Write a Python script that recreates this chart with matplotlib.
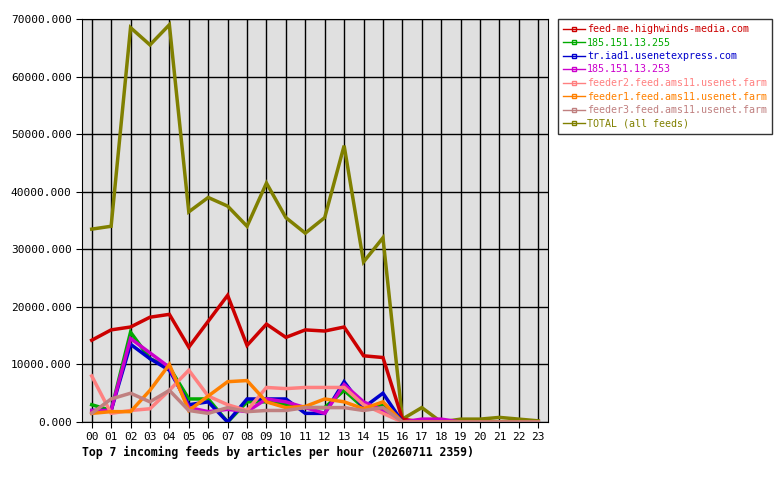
import matplotlib
matplotlib.use("Agg")
import matplotlib.pyplot as plt

hours = [f"{h:02d}" for h in range(24)]
names = ["feed-me.highwinds-media.com", "185.151.13.255", "tr.iad1.usenetexpress.com",
         "185.151.13.253", "feeder2.feed.ams11.usenet.farm", "feeder1.feed.ams11.usenet.farm",
         "feeder3.feed.ams11.usenet.farm", "TOTAL (all feeds)"]
colors = ["#cc0000", "#00aa00", "#0000cc", "#cc00cc", "#ff8080", "#ff8000", "#c08080", "#808000"]
z = [0]*7
red = [14200,16000,16500,18200,18700,13000,17500,22000,13300,17000,14700,16000,15800,16500,11500,11200,500]+z
green = [3000,2000,15600,11000,9500,4000,4000,0,3500,3500,3000,2500,2500,5500,2500,3000,0]+z
blue = [2000,2000,13500,11000,9000,3000,3500,0,4000,4000,4000,1500,1500,7000,2500,5000,0]+z
magenta = [2000,2000,14500,12000,9500,2500,1800,2200,1800,4000,3500,2500,1500,6500,3500,2000,0,500,500,0,0,0,0,0]
pink = [8000,1500,2000,2300,5500,9000,4500,3000,2000,6000,5800,6000,6000,6000,3000,1500,0]+z
orange = [1500,1800,1800,5500,10000,2000,4500,7000,7200,3500,2500,2700,4000,3500,2300,3500,0]+z
brown = [1500,4000,5000,3500,5500,2000,1500,2500,1800,2000,2000,2500,2500,2500,2000,2500,0]+z
total = [33500,34000,68500,65500,69000,36500,39000,37500,34000,41500,35500,32800,35500,48000,27800,32000,500,2500,0,500,500,800,500,200]
series = [red, green, blue, magenta, pink, orange, brown, total]

plt.rcParams['font.family'] = ['DejaVu Sans Mono']
fig = plt.figure(figsize=(7.8, 4.8), dpi=100)
ax = fig.add_axes([82/780, 1-422/480, 466/780, 403/480])
ax.set_facecolor("#e0e0e0")
x = list(range(24))
order = [7, 0, 1, 2, 3, 4, 5, 6]
for i in order:
    ax.plot(x, series[i], color=colors[i], lw=2.5, solid_joinstyle='miter')
ax.set_xlim(-0.5, 23.5)
ax.set_ylim(0, 70000)
ax.set_xticks(x)
ax.set_xticklabels(hours, fontsize=8)
yt = list(range(0, 70001, 10000))
ax.set_yticks(yt)
ax.set_yticklabels([f"{v}.000" for v in yt], fontsize=8)
ax.grid(True, color="black", lw=1)
ax.set_axisbelow(True)
ax.tick_params(length=4, color="black")
for s in ax.spines.values():
    s.set_color("black")
fig.text(82/780, 1-452/480, "Top 7 incoming feeds by articles per hour (20260711 2359)",
         fontsize=8.3, fontweight='bold', va='center')
from matplotlib.lines import Line2D
handles = [Line2D([], [], color=colors[i], lw=1, marker='s', markersize=3,
                  markerfacecolor='none', markevery=[1]) for i in range(8)]
leg = fig.legend(handles, names, loc='upper left', bbox_to_anchor=(558/780, 1-19/480),
                 fontsize=7.2, frameon=True, fancybox=False, edgecolor='black',
                 handlelength=2.2, handletextpad=0.2, labelspacing=0.35, borderpad=0.5,
                 borderaxespad=0)
leg.get_frame().set_linewidth(1)
for t, c in zip(leg.get_texts(), colors):
    t.set_color(c)
fig.savefig("out.png", dpi=100)
